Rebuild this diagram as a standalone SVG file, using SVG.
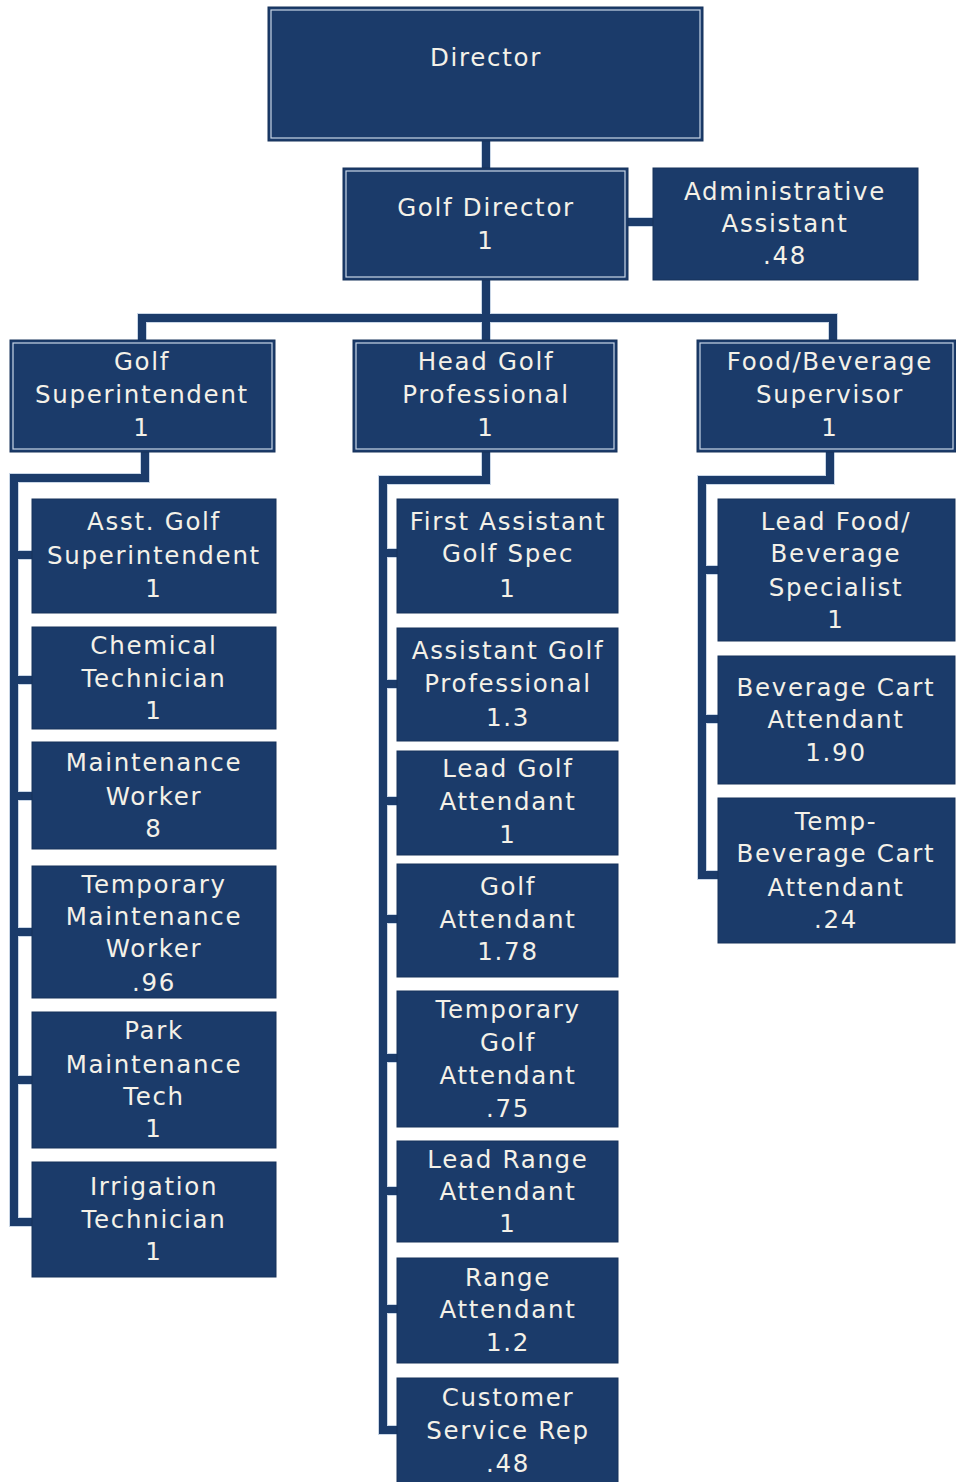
<svg xmlns="http://www.w3.org/2000/svg" width="956" height="1482" viewBox="0 0 956 1482">
  <style>
    .box { fill: #1b3b6a; stroke: #16325b; stroke-width: 1; }
    .inner { fill: none; stroke: #c9d6e6; stroke-width: 1.2; }
    .lbl { font-family: "DejaVu Sans", "Liberation Sans", sans-serif; font-size: 24.5px; letter-spacing: 1.7px; fill: #f4f1e8; text-anchor: middle; }
    .edge-bg { fill: none; stroke: #c9d6e6; stroke-width: 10; stroke-linejoin: miter; stroke-linecap: butt; }
    .edge { fill: none; stroke: #1b3b6a; stroke-width: 8; stroke-linejoin: miter; stroke-linecap: butt; }
  </style>
  <rect width="956" height="1482" fill="#ffffff"/>

  <!-- connectors -->
  <g id="connectors">
    <g class="edge-bg">
      <path d="M486 141 V168"/>
      <path d="M628 222 H653"/>
      <path d="M486 280 V318"/>
      <path d="M142 340 V318 H833 V340"/>
      <path d="M486 318 V340"/>
      <path d="M145 452 V478 H14 V1222 H32"/>
      <path d="M14 555 H32 M14 680 H32 M14 796 H32 M14 932 H32 M14 1080 H32"/>
      <path d="M486 452 V480 H383 V1430 H397"/>
      <path d="M383 553 H397 M383 684 H397 M383 801 H397 M383 919 H397 M383 1058 H397 M383 1191 H397 M383 1309 H397"/>
      <path d="M830 452 V480 H702 V875 H718"/>
      <path d="M702 570 H718 M702 719 H718"/>
    </g>
    <g class="edge">
      <path d="M486 141 V168"/>
      <path d="M628 222 H653"/>
      <path d="M486 280 V318"/>
      <path d="M142 340 V318 H833 V340"/>
      <path d="M486 318 V340"/>
      <path d="M145 452 V478 H14 V1222 H32"/>
      <path d="M14 555 H32 M14 680 H32 M14 796 H32 M14 932 H32 M14 1080 H32"/>
      <path d="M486 452 V480 H383 V1430 H397"/>
      <path d="M383 553 H397 M383 684 H397 M383 801 H397 M383 919 H397 M383 1058 H397 M383 1191 H397 M383 1309 H397"/>
      <path d="M830 452 V480 H702 V875 H718"/>
      <path d="M702 570 H718 M702 719 H718"/>
    </g>
  </g>

  <!-- top levels -->
  <g id="director">
    <rect class="box" x="268" y="7" width="435" height="134"/>
    <rect class="inner" x="271" y="10" width="429" height="128"/>
    <text class="lbl" x="486" y="66">Director</text>
  </g>
  <g id="golf-director">
    <rect class="box" x="343" y="168" width="285" height="112"/>
    <rect class="inner" x="346" y="171" width="279" height="106"/>
    <text class="lbl" x="486" y="216">Golf Director</text>
    <text class="lbl" x="486" y="249">1</text>
  </g>
  <g id="admin-assistant">
    <rect class="box" x="653" y="168" width="265" height="112"/>
    <text class="lbl" x="785" y="200">Administrative</text>
    <text class="lbl" x="785" y="232">Assistant</text>
    <text class="lbl" x="785" y="264">.48</text>
  </g>

  <g id="golf-superintendent">
    <rect class="box" x="10" y="340" width="265" height="112"/>
    <rect class="inner" x="13" y="343" width="259" height="106"/>
    <text class="lbl" x="142" y="370">Golf</text>
    <text class="lbl" x="142" y="403">Superintendent</text>
    <text class="lbl" x="142" y="436">1</text>
  </g>
  <g id="head-golf-professional">
    <rect class="box" x="353" y="340" width="264" height="112"/>
    <rect class="inner" x="356" y="343" width="258" height="106"/>
    <text class="lbl" x="486" y="370">Head Golf</text>
    <text class="lbl" x="486" y="403">Professional</text>
    <text class="lbl" x="486" y="436">1</text>
  </g>
  <g id="food-beverage-supervisor">
    <rect class="box" x="697" y="340" width="259" height="112"/>
    <rect class="inner" x="700" y="343" width="253" height="106"/>
    <text class="lbl" x="830" y="370">Food/Beverage</text>
    <text class="lbl" x="830" y="403">Supervisor</text>
    <text class="lbl" x="830" y="436">1</text>
  </g>

  <!-- golf superintendent staff -->
  <g id="asst-golf-superintendent">
    <rect class="box" x="32" y="499" width="244" height="114"/>
    <text class="lbl" x="154" y="530">Asst. Golf</text>
    <text class="lbl" x="154" y="564">Superintendent</text>
    <text class="lbl" x="154" y="597">1</text>
  </g>
  <g id="chemical-technician">
    <rect class="box" x="32" y="627" width="244" height="102"/>
    <text class="lbl" x="154" y="654">Chemical</text>
    <text class="lbl" x="154" y="687">Technician</text>
    <text class="lbl" x="154" y="719">1</text>
  </g>
  <g id="maintenance-worker">
    <rect class="box" x="32" y="742" width="244" height="107"/>
    <text class="lbl" x="154" y="771">Maintenance</text>
    <text class="lbl" x="154" y="805">Worker</text>
    <text class="lbl" x="154" y="837">8</text>
  </g>
  <g id="temporary-maintenance-worker">
    <rect class="box" x="32" y="866" width="244" height="132"/>
    <text class="lbl" x="154" y="893">Temporary</text>
    <text class="lbl" x="154" y="925">Maintenance</text>
    <text class="lbl" x="154" y="957">Worker</text>
    <text class="lbl" x="154" y="991">.96</text>
  </g>
  <g id="park-maintenance-tech">
    <rect class="box" x="32" y="1012" width="244" height="136"/>
    <text class="lbl" x="154" y="1039">Park</text>
    <text class="lbl" x="154" y="1073">Maintenance</text>
    <text class="lbl" x="154" y="1105">Tech</text>
    <text class="lbl" x="154" y="1137">1</text>
  </g>
  <g id="irrigation-technician">
    <rect class="box" x="32" y="1162" width="244" height="115"/>
    <text class="lbl" x="154" y="1195">Irrigation</text>
    <text class="lbl" x="154" y="1228">Technician</text>
    <text class="lbl" x="154" y="1260">1</text>
  </g>

  <!-- head golf professional staff -->
  <g id="first-assistant-golf-spec">
    <rect class="box" x="397" y="499" width="221" height="114"/>
    <text class="lbl" x="508" y="530">First Assistant</text>
    <text class="lbl" x="508" y="562">Golf Spec</text>
    <text class="lbl" x="508" y="597">1</text>
  </g>
  <g id="assistant-golf-professional">
    <rect class="box" x="397" y="628" width="221" height="113"/>
    <text class="lbl" x="508" y="659">Assistant Golf</text>
    <text class="lbl" x="508" y="692">Professional</text>
    <text class="lbl" x="508" y="726">1.3</text>
  </g>
  <g id="lead-golf-attendant">
    <rect class="box" x="397" y="751" width="221" height="104"/>
    <text class="lbl" x="508" y="777">Lead Golf</text>
    <text class="lbl" x="508" y="810">Attendant</text>
    <text class="lbl" x="508" y="843">1</text>
  </g>
  <g id="golf-attendant">
    <rect class="box" x="397" y="864" width="221" height="113"/>
    <text class="lbl" x="508" y="895">Golf</text>
    <text class="lbl" x="508" y="928">Attendant</text>
    <text class="lbl" x="508" y="960">1.78</text>
  </g>
  <g id="temporary-golf-attendant">
    <rect class="box" x="397" y="991" width="221" height="136"/>
    <text class="lbl" x="508" y="1018">Temporary</text>
    <text class="lbl" x="508" y="1051">Golf</text>
    <text class="lbl" x="508" y="1084">Attendant</text>
    <text class="lbl" x="508" y="1117">.75</text>
  </g>
  <g id="lead-range-attendant">
    <rect class="box" x="397" y="1141" width="221" height="101"/>
    <text class="lbl" x="508" y="1168">Lead Range</text>
    <text class="lbl" x="508" y="1200">Attendant</text>
    <text class="lbl" x="508" y="1232">1</text>
  </g>
  <g id="range-attendant">
    <rect class="box" x="397" y="1258" width="221" height="105"/>
    <text class="lbl" x="508" y="1286">Range</text>
    <text class="lbl" x="508" y="1318">Attendant</text>
    <text class="lbl" x="508" y="1351">1.2</text>
  </g>
  <g id="customer-service-rep">
    <rect class="box" x="397" y="1378" width="221" height="106"/>
    <text class="lbl" x="508" y="1406">Customer</text>
    <text class="lbl" x="508" y="1439">Service Rep</text>
    <text class="lbl" x="508" y="1472">.48</text>
  </g>

  <!-- food and beverage staff -->
  <g id="lead-food-beverage-specialist">
    <rect class="box" x="718" y="499" width="237" height="142"/>
    <text class="lbl" x="836" y="530">Lead Food/</text>
    <text class="lbl" x="836" y="562">Beverage</text>
    <text class="lbl" x="836" y="596">Specialist</text>
    <text class="lbl" x="836" y="628">1</text>
  </g>
  <g id="beverage-cart-attendant">
    <rect class="box" x="718" y="656" width="237" height="128"/>
    <text class="lbl" x="836" y="696">Beverage Cart</text>
    <text class="lbl" x="836" y="728">Attendant</text>
    <text class="lbl" x="836" y="761">1.90</text>
  </g>
  <g id="temp-beverage-cart-attendant">
    <rect class="box" x="718" y="798" width="237" height="145"/>
    <text class="lbl" x="836" y="830">Temp-</text>
    <text class="lbl" x="836" y="862">Beverage Cart</text>
    <text class="lbl" x="836" y="896">Attendant</text>
    <text class="lbl" x="836" y="928">.24</text>
  </g>
</svg>
